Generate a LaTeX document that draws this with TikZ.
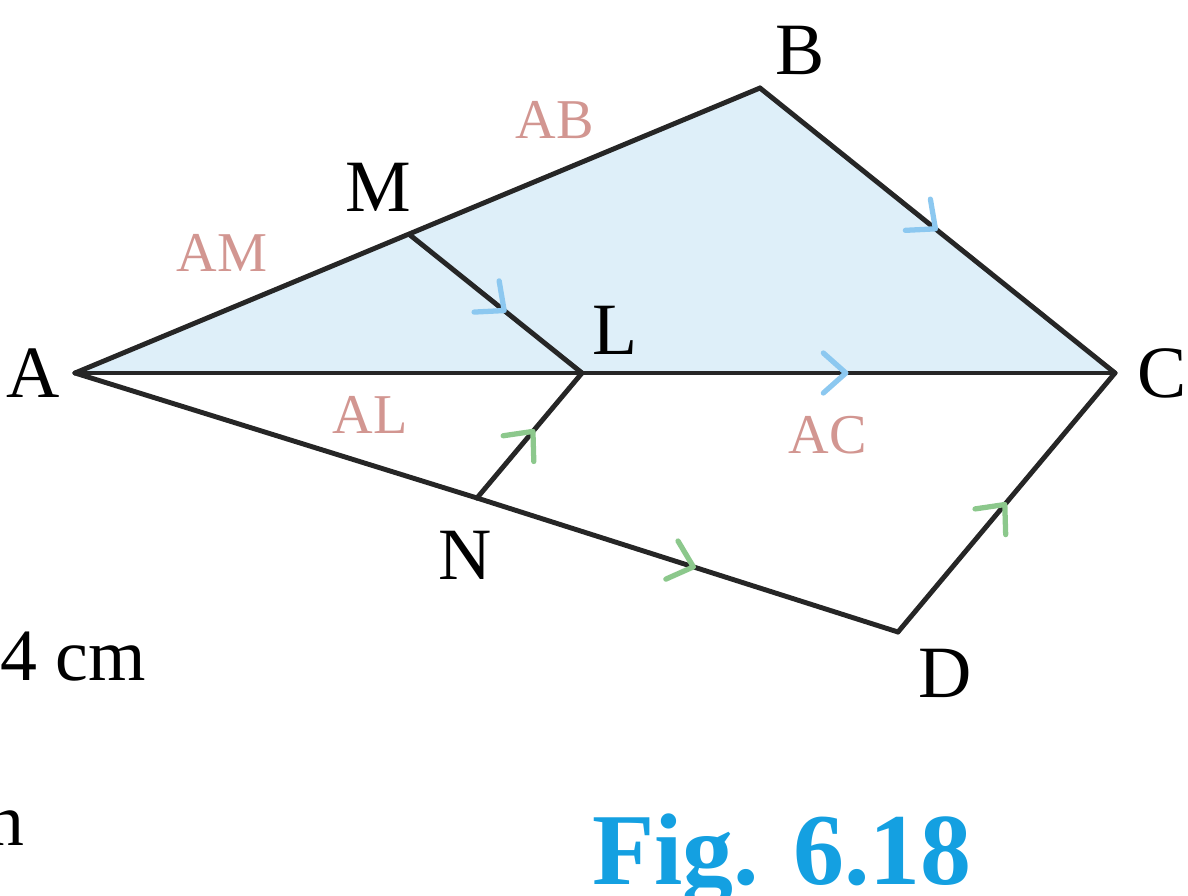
\documentclass[tikz,border=0pt]{standalone}
\usepackage{fontspec}
\setmainfont{Liberation Serif}
\usepackage{tikz}
\usetikzlibrary{arrows.meta, decorations.markings}
\definecolor{fillblue}{RGB}{222,239,249}
\definecolor{markblue}{RGB}{140,200,240}
\definecolor{markgreen}{RGB}{140,200,140}
\definecolor{lblpink}{RGB}{210,150,145}
\definecolor{figblue}{RGB}{20,160,225}
\begin{document}
\begin{tikzpicture}[x=0.02cm, y=-0.02cm]

\tikzset{%
side/.style={line width=2.8pt, black!85, line cap=round, line join=round},
pt/.style={font=\fontsize{42}{50}\selectfont, inner sep=0},
lbl/.style={font=\fontsize{32}{38}\selectfont, lblpink, inner sep=0},
% chevron mark at a given position, colour
par/.style n args={2}{postaction={decorate, decoration={markings,
	mark=at position #1 with {\arrow[#2, line width=3pt]{Straight Barb[length=4.5mm, width=8mm, round]}}}}}%
}

\useasboundingbox (0,0) rectangle (1188,896);
\clip (0,0) rectangle (1188,896);

\coordinate (A) at (75,373);
\coordinate (B) at (760,88);
\coordinate (C) at (1115,373);
\coordinate (M) at (410,235);
\coordinate (L) at (582,373);
\coordinate (N) at (477,498);
\coordinate (D) at (898,632);

\fill [fillblue] (A) -- (B) -- (C) -- cycle;

% sides
\draw [side] (A) -- (B);
\draw [side, par={0.5}{markblue}] (B) -- (C);
\draw [side] (A) -- (L);
\draw [side, par={0.5}{markblue}] (L) -- (C);
\draw [side, par={0.56}{markblue}] (M) -- (L);
\draw [side] (A) -- (N);
\draw [side, par={0.52}{markgreen}] (N) -- (D);
\draw [side, par={0.5}{markgreen}] (D) -- (C);
\draw [side, par={0.55}{markgreen}] (N) -- (L);

% points
\node [pt] (lA) at (33,373) {A};
\node [pt] (lB) at (800,50) {B};
\node [pt] (lC) at (1162,373) {C};
\node [pt] (lM) at (378,187) {M};
\node [pt] (lL) at (615,330) {L};
\node [pt] (lN) at (465,555) {N};
\node [pt] (lD) at (945,673) {D};

% ratio labels
\node [lbl] (tAB) at (555,120) {AB};
\node [lbl] (tAM) at (222,253) {AM};
\node [lbl] (tAL) at (370,415) {AL};
\node [lbl] (tAC) at (828,435) {AC};

% cut-off text
\node [pt, anchor=east] (cm) at (146,657) {4 cm};
\node [pt, anchor=east] (nn) at (25,828) {n};
\node [font=\fontsize{58}{66}\selectfont\bfseries, figblue, inner sep=0] (fig) at (782,860) {Fig. 6.18};

\end{tikzpicture}
\end{document}
